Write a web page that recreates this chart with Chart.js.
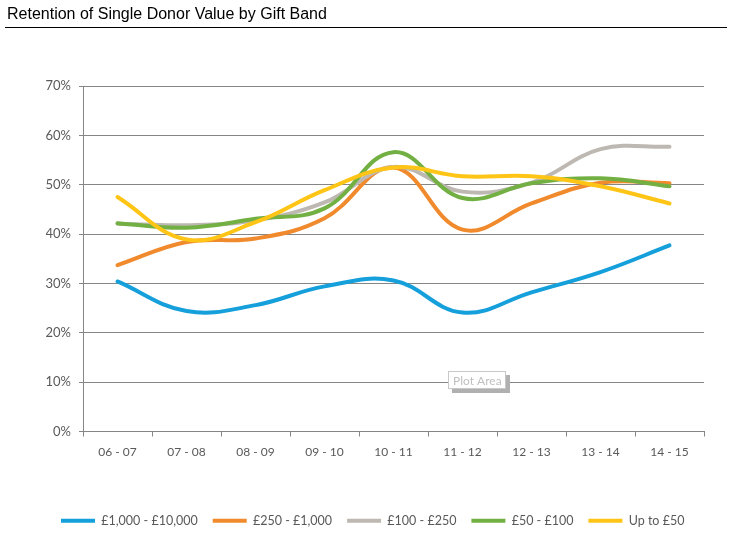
<!DOCTYPE html>
<html>
<head>
<meta charset="utf-8">
<script src="https://cdn.jsdelivr.net/npm/chart.js@4"></script>
<style>
html, body { margin: 0; padding: 0; background: #fff; }
#wrap { width: 740px; height: 545px; position: relative; }
</style>
</head>
<body>
<div id="wrap"><canvas id="grafico" width="740" height="545"></canvas></div>
<script>
const periodos = ["06 - 07", "07 - 08", "08 - 09", "09 - 10", "10 - 11", "11 - 12", "12 - 13", "13 - 14", "14 - 15"]

const banda1000 = [30.4, 24.4, 25.6, 29.4, 30.6, 24.1, 28.2, 32.3, 37.7]
const banda250 = [33.7, 38.4, 39.1, 43.2, 53.5, 40.9, 46.2, 50.4, 50.3]
const banda100 = [42.1, 41.8, 42.8, 46.4, 53.6, 48.6, 50.4, 57.2, 57.7]
const banda50 = [42.2, 41.3, 43.1, 45.2, 56.6, 47.3, 50.3, 51.3, 49.7]
const ate50 = [47.5, 38.9, 42.4, 48.9, 53.5, 51.7, 51.7, 49.7, 46.2]

const nomes = ["£1,000 - £10,000", "£250 - £1,000", "£100 - £250", "£50 - £100", "Up to £50"]
const cores = ["#159FDB", "#F08A2C", "#BDB8B1", "#73B043", "#FEC516"]

const fonte = "Lato, 'Open Sans', sans-serif"

function serie(i, valores) {
    return {
        label: nomes[i],
        data: valores,
        borderColor: cores[i],
        backgroundColor: cores[i],
        borderWidth: 4,
        pointRadius: 0,
        tension: 0.4,
        borderCapStyle: "round",
        fill: false,
        order: 5 - i // ultima serie por cima, como no Excel
    }
}

// titulo + linha + caixa "Plot Area"
const tituloPlugin = {
    id: "titulo",
    afterDraw(chart) {
        const ctx = chart.ctx
        ctx.save()
        ctx.fillStyle = "#000"
        ctx.font = "16px 'Liberation Sans', Arial, sans-serif"
        ctx.textBaseline = "alphabetic"
        ctx.fillText("Retention of Single Donor Value by Gift Band", 7, 19)
        ctx.strokeStyle = "#000"
        ctx.lineWidth = 1
        ctx.beginPath()
        ctx.moveTo(5, 27.5)
        ctx.lineTo(727, 27.5)
        ctx.stroke()

        ctx.fillStyle = "#b0b0b0"
        ctx.fillRect(452, 375, 58, 18)
        ctx.fillStyle = "#fff"
        ctx.fillRect(448, 371, 58, 18)
        ctx.strokeStyle = "#c8c8c8"
        ctx.strokeRect(448.5, 371.5, 57, 17)
        ctx.fillStyle = "#c0c0c0"
        ctx.font = "12px " + fonte
        ctx.fillText("Plot Area", 453, 385)
        ctx.restore()
    }
}

new Chart(document.getElementById("grafico"), {
    type: "line",
    data: {
        labels: periodos,
        datasets: [
            serie(0, banda1000),
            serie(1, banda250),
            serie(2, banda100),
            serie(3, banda50),
            serie(4, ate50)
        ]
    },
    options: {
        responsive: false,
        animation: false,
        layout: { padding: { left: 46, right: 36, top: 86, bottom: 8 } },
        plugins: {
            title: { display: false },
            tooltip: { enabled: false },
            legend: {
                position: "bottom",
                align: "start",
                labels: {
                    usePointStyle: true,
                    pointStyle: "line",
                    pointStyleWidth: 34,
                    boxHeight: 12,
                    padding: 15,
                    color: "#595959",
                    font: { family: fonte, size: 12.5 },
                    sort: (a, b) => a.datasetIndex - b.datasetIndex
                }
            }
        },
        scales: {
            x: {
                offset: true,
                afterFit(s) { s.height = 68 },
                grid: {
                    offset: true,
                    drawOnChartArea: false,
                    drawTicks: true,
                    tickLength: 5,
                    color: "#868686"
                },
                border: { display: true, color: "#868686" },
                ticks: {
                    color: "#595959",
                    font: { family: fonte, size: 12 },
                    padding: 8,
                    maxRotation: 0
                }
            },
            y: {
                min: 0,
                max: 70,
                afterFit(s) { s.width = 37 },
                grid: {
                    color: "#868686",
                    tickLength: 4
                },
                border: { display: true, color: "#868686" },
                ticks: {
                    stepSize: 10,
                    color: "#595959",
                    font: { family: fonte, size: 13 },
                    padding: 8,
                    callback: v => v + "%"
                }
            }
        }
    },
    plugins: [tituloPlugin]
})
</script>
</body>
</html>
